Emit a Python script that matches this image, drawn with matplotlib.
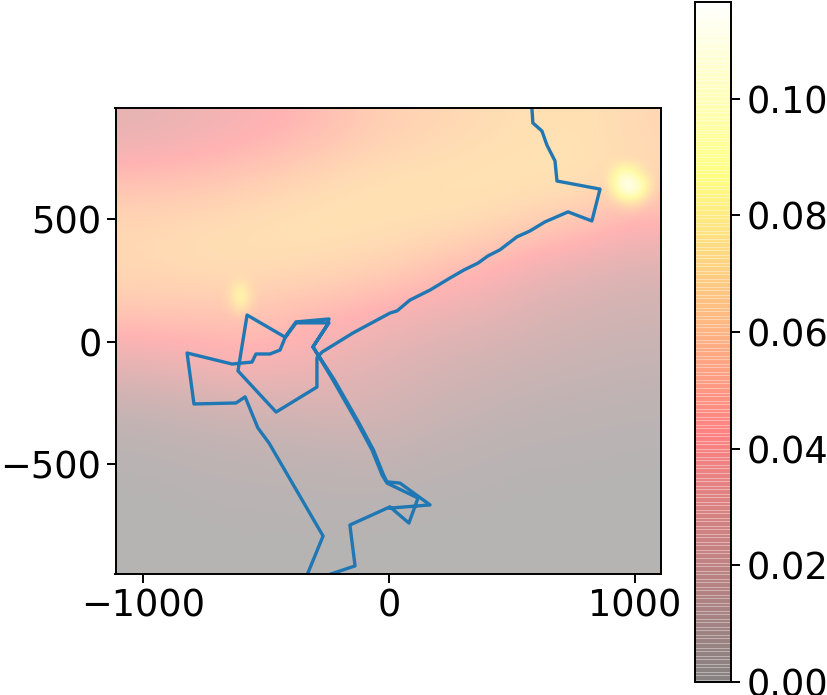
import numpy as np
import matplotlib
matplotlib.use("Agg")
import matplotlib.pyplot as plt
from matplotlib.colors import LinearSegmentedColormap

W, H = 827, 695
XLIM = (-1112, 1106)
YLIM = (-947, 955)

# Density, top row first
density = [
    [.028, .033, .038, .043, .052, .060, .063, .067, .069, .070, .064],
    [.050, .052, .056, .062, .067, .070, .071, .072, .072, .072, .066],
    [.065, .067, .069, .071, .071, .070, .069, .066, .060, .052, .042],
    [.065, .067, .068, .066, .064, .060, .052, .043, .032, .027, .022],
    [.053, .053, .053, .049, .043, .037, .030, .027, .021, .017, .015],
    [.028, .034, .040, .037, .030, .024, .020, .016, .013, .011, .009],
    [.009, .012, .015, .017, .020, .018, .012, .009, .006, .005, .004],
    [.002, .004, .005, .006, .006, .008, .005, .003, .002, .002, .001],
    [.000, .001, .002, .002, .003, .002, .001, .001, .000, .000, .000],
    [.000, .000, .000, .000, .000, .000, .000, .000, .000, .000, .000],
]
VMAX = 0.1166

# Small bright spots: strength
spot_left = [
    [0, 0, 0, 0, 0],
    [0, .10, .40, .10, 0],
    [0, .25, .75, .25, 0],
    [0, .10, .40, .10, 0],
    [0, 0, 0, 0, 0],
]
spot_left_extent = (-700, -510, 70, 300)
spot_right = [
    [0, 0, 0, 0, 0, 0, 0],
    [0, .30, .70, .70, .35, .05, 0],
    [0, .65, 1.0, 1.0, .90, .50, 0],
    [0, .35, .85, .95, .80, .35, 0],
    [0, 0, .15, .20, .15, 0, 0],
    [0, 0, 0, 0, 0, 0, 0],
]
spot_right_extent = (860, 1106, 490, 770)

route_x = [578, 581, 585, 622, 642, 675, 683, 858, 825, 728, 634, 573, 520, 451, 402, 362, 305, 248, 167,
           85, 33, 4, -146, -272, -293, -293, -459, -614, -577, -423, -378, -244, -252, -309, -289, -228,
           -130, -69, -28, -8, 118, 81, 4, -159, -138, -248, -321, -333, -268, -455, -488, -533, -585, -622,
           -793, -821, -638, -557, -541, -484, -443, -423, -378, -244, -309, -222, -124, -63, -22, -8,
           45, 167, 4]
route_y = [985, 955, 894, 861, 804, 739, 657, 624, 494, 531, 490, 453, 429, 376, 351, 322, 294, 261, 212,
           171, 127, 118, 37, -41, -65, -184, -286, -118, 110, 20, 82, 94, 69, -20, -53, -155,
           -327, -441, -543, -576, -637, -739, -673, -747, -914, -951, -992, -951, -792, -469, -412, -351, -224, -249,
           -253, -45, -90, -82, -49, -49, -33, 16, 78, 78, -20, -155, -327, -441, -543, -571,
           -576, -665, -678]

x_ticks = [-1000, 0, 1000]
y_ticks = [-500, 0, 500]
cbar_ticks = [0.00, 0.02, 0.04, 0.06, 0.08, 0.10]

plt.rcParams.update({"font.size": 26.5, "axes.linewidth": 1.4,
                     "xtick.major.width": 1.4, "ytick.major.width": 1.4,
                     "xtick.major.size": 6.5, "ytick.major.size": 6.5})
fig = plt.figure(figsize=(W / 100, H / 100), dpi=100)
ax = fig.add_axes([115.5 / W, (H - 574) / H, 545.5 / W, 466 / H])
cax = fig.add_axes([695 / W, (H - 682) / H, 36 / W, 680 / H])

extent = (*XLIM, *YLIM)
im = ax.imshow(density, cmap="hot", vmin=0, vmax=VMAX, alpha=0.3, extent=extent,
               origin="upper", aspect="auto", interpolation="bicubic", zorder=1)

spot_cmap = LinearSegmentedColormap.from_list(
    "spot", [(0, (1, 1, .65, 0)), (.6, (1, 1, .65, .9)), (1, (1, 1, .92, 1))])
for spot, ext in [(spot_left, spot_left_extent), (spot_right, spot_right_extent)]:
    ax.imshow(spot, cmap=spot_cmap, vmin=0, vmax=1, extent=ext, origin="upper",
              aspect="auto", interpolation="bicubic", zorder=1.5)

ax.plot(route_x, route_y, color="#1f77b4", lw=2.4, zorder=2)
ax.set_xlim(XLIM)
ax.set_ylim(YLIM)
ax.set_xticks(x_ticks)
ax.set_yticks(y_ticks)

cb = fig.colorbar(im, cax=cax)
cb.set_ticks(cbar_ticks)
cb.ax.tick_params(length=6.5, width=1.4, pad=4.5)

# Faint bands between colour steps, as the translucent bar shows in the reference
solids = cb.solids
solids.update_scalarmappable()
face = solids.get_facecolor().copy()
edge = face.copy()
edge[:, 3] = 0.14
solids.set_array(None)
solids.set_alpha(None)
solids.set_facecolor(face)
solids.set_edgecolor(edge)
solids.set_linewidth(0.3)

fig.savefig("out.png", dpi=100)
